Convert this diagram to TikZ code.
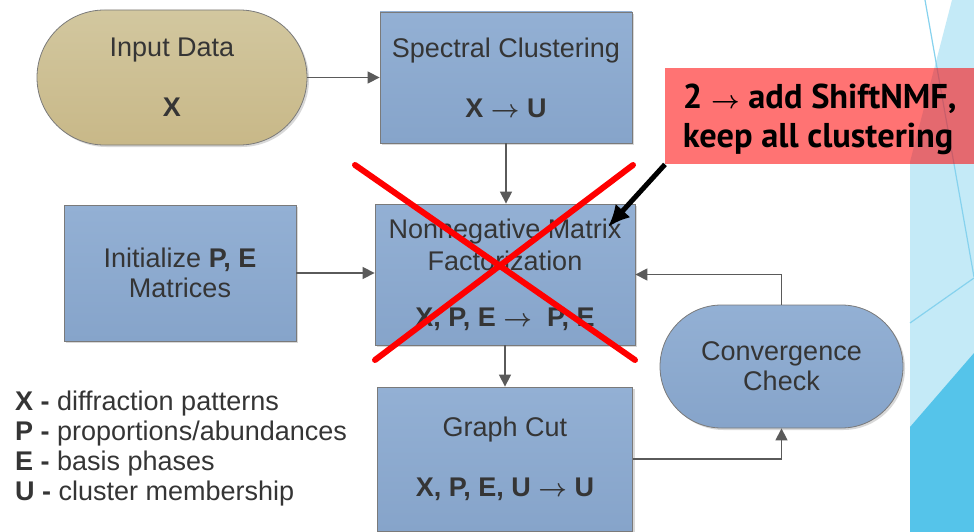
\documentclass[tikz,border=0pt]{standalone}
\usepackage{fontspec}
\setmainfont{Liberation Sans}
\newfontfamily\notefont{PT Sans}
\usetikzlibrary{shadows,calc,arrows.meta,shapes.misc}

\definecolor{boxbluetop}{HTML}{93B0D4}
\definecolor{boxbluebot}{HTML}{86A4CA}
\definecolor{tantop}{HTML}{D2C79F}
\definecolor{tanbot}{HTML}{C8B888}
\definecolor{edgegray}{HTML}{7A7A7A}
\definecolor{txtgray}{HTML}{353535}
\definecolor{linkgray}{HTML}{5A5A5A}
\definecolor{facetlight}{HTML}{C4EAF7}
\definecolor{facetdark}{HTML}{55C4EA}
\definecolor{facetline}{HTML}{86D2EE}

\begin{document}
\begin{tikzpicture}[x=1pt,y=-1pt,
  every node/.style={font=\fontsize{27}{30}\selectfont, text=txtgray},
  flowbox/.style={draw=edgegray, line width=0.8pt, top color=boxbluetop, bottom color=boxbluebot,
    align=center, inner sep=0pt,
    drop shadow={shadow xshift=2pt, shadow yshift=-2pt, opacity=0.3}},
  stadium/.style={flowbox, shape=rounded rectangle},
  link/.style={draw=linkgray, line width=1.3pt, -{Triangle[length=12pt,width=12pt]}},
  crossline/.style={draw=red, line width=6pt, line cap=round},
  pointer/.style={draw=black, line width=5pt, -{Latex[length=22pt,width=20pt]}}
]
\useasboundingbox (0,0) rectangle (974,532);
\fill[white] (0,0) rectangle (974,532);

% facet decoration
\fill[facetlight] (952,0) -- (974,0) -- (974,532) -- (910,532) -- (910,162) -- cycle;
\fill[facetdark] (910,427) -- (974,353) -- (974,532) -- (910,532) -- cycle;
\draw[facetline, line width=1.2pt] (925,0) -- (974,277);
\draw[facetline, line width=1.2pt] (910,323) -- (974,278);

% nodes
\node[stadium, top color=tantop, bottom color=tanbot, minimum width=270pt, minimum height=135pt]
  (input) at (172,77.5) {Input Data\\[30pt]\textbf{X}};
\node[flowbox, minimum width=252pt, minimum height=131pt]
  (spectral) at (506,77.5) {Spectral Clustering\\[30pt]\textbf{X {\boldmath$\rightarrow$} U}};
\node[flowbox, minimum width=260pt, minimum height=141pt]
  (nmf) at (505,274.5) {Nonnegative Matrix\\[2pt]Factorization\\[26pt]\textbf{X, P, E {\boldmath$\rightarrow$}\ \ P, E}};
\node[flowbox, minimum width=232pt, minimum height=136pt]
  (init) at (180,273) {Initialize \textbf{P, E}\\Matrices};
\node[stadium, minimum width=243pt, minimum height=123pt]
  (conv) at (781.5,366.5) {Convergence\\Check};
\node[flowbox, minimum width=255pt, minimum height=144pt]
  (graph) at (505,459) {Graph Cut\\[30pt]\textbf{X, P, E, U {\boldmath$\rightarrow$} U}};

\node[anchor=west, align=left, inner sep=0pt] (legend) at (15,449)
  {\textbf{X -} diffraction patterns\\
   \textbf{P -} proportions/abundances\\
   \textbf{E -} basis phases\\
   \textbf{U -} cluster membership};

% connectors
\draw[link] (input.east) -- (spectral.west);
\draw[link] (spectral.south) -- (spectral.south |- nmf.north);
\draw[link] (init.east) -- (init.east -| nmf.west);
\draw[link] (nmf.south) -- (graph.north);
\draw[link] (graph.east) -| (conv.south);
\draw[link] (conv.north) |- (nmf.east);

% red cross
\coordinate (xa1) at (355,165);
\coordinate (xa2) at (635,360);
\coordinate (xb1) at (633,165);
\coordinate (xb2) at (375,360);
\draw[crossline] (xa1) -- (xa2);
\draw[crossline] (xb1) -- (xb2);

% note
\node[anchor=north west, fill=red, fill opacity=0.55, text opacity=1, text=black,
      minimum width=309pt, minimum height=96pt, inner xsep=0pt, inner ysep=0pt,
      align=left, font=\notefont\bfseries\fontsize{34.4}{39}\selectfont]
  (note) at (665,68) {\rule{0pt}{31pt}2 {\boldmath$\rightarrow$} add ShiftNMF,\\keep all clustering};
\coordinate (tip) at (608,227);
\draw[pointer] (note.south west) -- (tip);
\end{tikzpicture}
\end{document}
